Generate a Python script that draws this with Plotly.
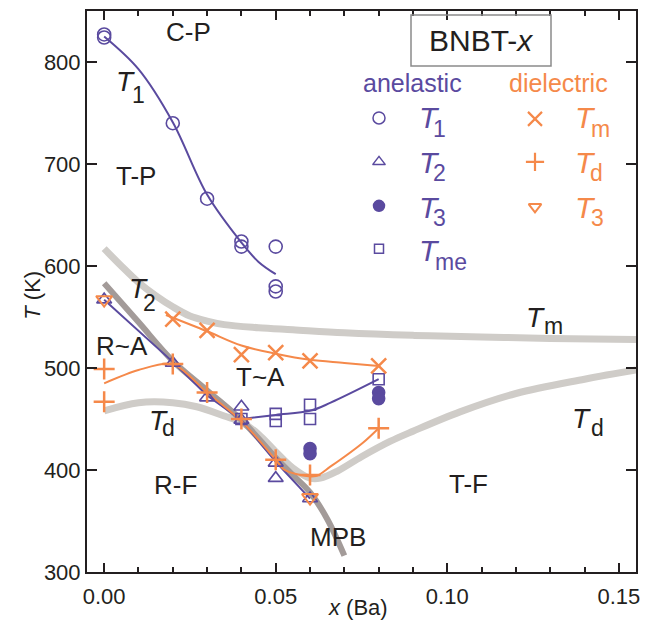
import plotly.graph_objects as go

PURPLE = '#5a4a9f'
ORANGE = '#f5894a'
LGRAY = '#cfccc8'
DGRAY = '#a39b99'
INK = '#231f20'

# ---------------- data ----------------
# anelastic
x_T1 = [0.0, 0.0, 0.02, 0.03, 0.04, 0.04, 0.05, 0.05, 0.05]
T1 = [827, 824, 740, 666, 624, 619, 619, 580, 575]
x_T2 = [0.0, 0.02, 0.03, 0.04, 0.04, 0.05, 0.05, 0.06]
T2 = [567, 505, 471, 462, 449, 407, 392, 372]
x_T3a = [0.06, 0.06, 0.08, 0.08]
T3a = [421, 416, 476, 470]
x_Tme = [0.04, 0.05, 0.05, 0.06, 0.06, 0.08]
Tme = [450, 455, 448, 464, 450, 489]
# dielectric
x_Tm = [0.02, 0.03, 0.04, 0.05, 0.06, 0.08]
Tm = [548, 537, 513, 515, 507, 502]
x_Td = [0.0, 0.0, 0.02, 0.03, 0.04, 0.05, 0.06, 0.08]
Td = [499, 467, 504, 476, 450, 410, 395, 441]
x_T3d = [0.0, 0.06]
T3d = [567, 373]

# guide-to-eye fit curves
fit_T1_x = [0.0, 0.01, 0.02, 0.03, 0.04, 0.045, 0.05]
fit_T1_y = [825, 793, 741, 670, 623, 604, 592]
fit_T2_x = [0.0, 0.02, 0.03, 0.04, 0.05, 0.06]
fit_T2_y = [567, 506, 473, 449, 408, 372]
fit_Tme_x = [0.04, 0.05, 0.06, 0.066, 0.08]
fit_Tme_y = [450, 454, 458, 466, 489]
fit_Tm_x = [0.018, 0.03, 0.04, 0.05, 0.06, 0.07, 0.08]
fit_Tm_y = [552, 536, 522, 514, 508, 505, 502]
fit_Td_x = [0.0, 0.01, 0.02, 0.03, 0.04, 0.05, 0.0522, 0.0559, 0.0617, 0.0658, 0.0755, 0.08]
fit_Td_y = [485, 498, 504, 476, 448, 410, 401, 396, 394, 403, 427, 441]

# phase boundaries (thick grey)
bTm_x = [0.0, 0.005, 0.01, 0.015, 0.02, 0.025, 0.03, 0.035, 0.045, 0.055, 0.07, 0.09, 0.11, 0.13, 0.155]
bTm_y = [617, 600, 584, 571, 560, 551, 546, 542.5, 539.5, 537.5, 534.5, 532, 530.5, 529, 528]
bTd_x = [0.0, 0.01, 0.02, 0.027, 0.035, 0.04, 0.045, 0.05, 0.055, 0.06, 0.063, 0.068, 0.075, 0.0833, 0.09, 0.1037, 0.12, 0.14, 0.155]
bTd_y = [458, 466, 466, 462, 453, 447, 435, 418, 402, 392, 392, 399, 413, 428, 438, 457, 475, 489, 498]
mpb_x = [0.0, 0.01, 0.02, 0.03, 0.04, 0.05, 0.055, 0.06, 0.065, 0.07]
mpb_y = [583, 545, 507, 478, 449, 412, 395, 378, 352, 316]

XR = [-0.005, 0.155]
YR = [300, 850]
W, H = 652, 622
ML, MR, MT, MB = 87, 16, 11, 49.5
PW, PH = W - ML - MR, H - MT - MB


def X(px):  # page pixel -> axis value (for label placement)
    return XR[0] + (px - ML) / PW * (XR[1] - XR[0])


def Y(py):
    return YR[0] + (H - MB - py) / PH * (YR[1] - YR[0])


fig = go.Figure()


def line(x, y, color, width, shape='spline', smoothing=1.0):
    fig.add_trace(go.Scatter(x=x, y=y, mode='lines', hoverinfo='skip',
                             line=dict(color=color, width=width, shape=shape,
                                       smoothing=smoothing)))


def marks(x, y, symbol, color, size, lw=1.6):
    fig.add_trace(go.Scatter(x=x, y=y, mode='markers', hoverinfo='skip',
                             marker=dict(symbol=symbol, color=color, size=size,
                                         line=dict(color=color, width=lw))))


line(bTm_x, bTm_y, LGRAY, 7)
line(bTd_x, bTd_y, LGRAY, 7)
line(mpb_x, mpb_y, DGRAY, 6)

line(fit_T1_x, fit_T1_y, PURPLE, 2)
line(fit_T2_x, fit_T2_y, PURPLE, 2, shape='linear')
line(fit_Tme_x, fit_Tme_y, PURPLE, 2)
line(fit_Tm_x, fit_Tm_y, ORANGE, 2)
line(fit_Td_x, fit_Td_y, ORANGE, 2, smoothing=0.8)

marks(x_T1, T1, 'circle-open', PURPLE, 13)
marks(x_T2, T2, 'triangle-up-open', PURPLE, 13)
marks(x_T3a, T3a, 'circle', PURPLE, 12)
marks(x_Tme, Tme, 'square-open', PURPLE, 11)
marks(x_Tm, Tm, 'x-thin-open', ORANGE, 15, 2.5)
marks(x_Td, Td, 'cross-thin-open', ORANGE, 15, 2.5)
marks(x_T3d, T3d, 'triangle-down-open', ORANGE, 14, 2)

# legend keys (page pixel positions)
leg_keys = [
    (379, 118, 'circle-open', PURPLE, 12, 1.5),
    (379, 162, 'triangle-up-open', PURPLE, 11, 1.5),
    (379, 206, 'circle', PURPLE, 11, 1.5),
    (379, 249, 'square-open', PURPLE, 9, 1.5),
    (535, 119, 'x-thin-open', ORANGE, 14, 2.2),
    (535, 162, 'cross-thin-open', ORANGE, 13, 2.2),
    (535, 207, 'triangle-down-open', ORANGE, 11, 2),
]
for px, py, sym, col, sz, lw in leg_keys:
    marks([X(px)], [Y(py)], sym, col, sz, lw)

anns = []


def ann(text, px, py, size=26, color=INK, xanchor='center', italic=False):
    if italic:
        text = '<i>%s</i>' % text
    anns.append(dict(text=text, x=X(px), y=Y(py), xref='x', yref='y', showarrow=False,
                     xanchor=xanchor, yanchor='middle',
                     font=dict(size=size, color=color)))


def tsub(sub, tx, ty, sx, sy, size, subsize, color=INK):
    ann('T', tx, ty, size, color, italic=True)
    ann(sub, sx, sy, subsize, color)


# phase labels
ann('C-P', 188, 31.7)
ann('T-P', 135.5, 176)
ann('R~A', 121.7, 346)
ann('T~A', 260, 377)
ann('R-F', 175, 485)
ann('MPB', 338, 537)
ann('T-F', 468, 484)
tsub('1', 125.8, 81.7, 138, 95.3, 28, 23)
tsub('2', 138.3, 288.8, 149.5, 303.7, 28, 23)
tsub('d', 158, 421, 168.5, 428.6, 28, 23)
tsub('m', 535, 318, 553, 326.5, 28, 23)
tsub('d', 581, 419, 597, 428.5, 28, 23)

# legend text
ann('anelastic', 412, 83.3, 25, PURPLE)
ann('dielectric', 558, 83.3, 25, ORANGE)
tsub('1', 429, 117.5, 439, 128.6, 30, 23, PURPLE)
tsub('2', 429, 162.5, 439, 173.6, 30, 23, PURPLE)
tsub('3', 429, 207.5, 439, 218.6, 30, 23, PURPLE)
tsub('me', 429, 251, 451, 262, 30, 23, PURPLE)
tsub('m', 585, 117.5, 600, 128.6, 30, 23, ORANGE)
tsub('d', 585, 162.5, 596.5, 173.6, 30, 23, ORANGE)
tsub('3', 585, 207.5, 597, 218.6, 30, 23, ORANGE)

# title box
ann('BNBT-<i>x</i>', 481, 41, 30)

# axis titles
anns.append(dict(text='<i>x</i> (Ba)', x=(358 - ML) / PW, y=-(608 - (H - MB)) / PH,
                 xref='paper', yref='paper', showarrow=False, xanchor='center',
                 yanchor='middle', font=dict(size=22, color=INK)))
anns.append(dict(text='<i>T</i> (K)', x=(33 - ML) / PW, y=((H - MB) - 296) / PH,
                 xref='paper', yref='paper', showarrow=False, xanchor='center',
                 yanchor='middle', textangle=-90, font=dict(size=22, color=INK)))

fig.update_layout(
    width=W, height=H,
    margin=dict(l=ML, r=MR, t=MT, b=MB),
    paper_bgcolor='white', plot_bgcolor='white',
    showlegend=False,
    font=dict(family='Liberation Sans, Arial, sans-serif', color=INK, size=22),
    annotations=anns,
    shapes=[dict(type='rect', xref='paper', yref='paper',
                 x0=(411 - ML) / PW, x1=(551 - ML) / PW,
                 y0=((H - MB) - 66) / PH, y1=((H - MB) - 15) / PH,
                 line=dict(color='#8a8a8a', width=1.5))],
)
fig.update_xaxes(range=XR, tick0=0, dtick=0.05, tickformat='.2f',
                 ticks='inside', ticklen=9, tickwidth=1.5, tickcolor=INK,
                 showline=True, linecolor=INK, linewidth=2, mirror='ticks',
                 showgrid=False, zeroline=False, automargin=False,
                 ticklabelstandoff=4,
                 minor=dict(dtick=0.01, tick0=0, ticks='inside', ticklen=5,
                            tickwidth=1.5, tickcolor=INK, showgrid=False),
                 tickfont=dict(size=22))
fig.update_yaxes(range=YR, tick0=300, dtick=100,
                 ticks='inside', ticklen=10, tickwidth=1.5, tickcolor=INK,
                 showline=True, linecolor=INK, linewidth=2, mirror='ticks',
                 showgrid=False, zeroline=False, automargin=False,
                 tickfont=dict(size=22))

fig.write_html('out.html')
